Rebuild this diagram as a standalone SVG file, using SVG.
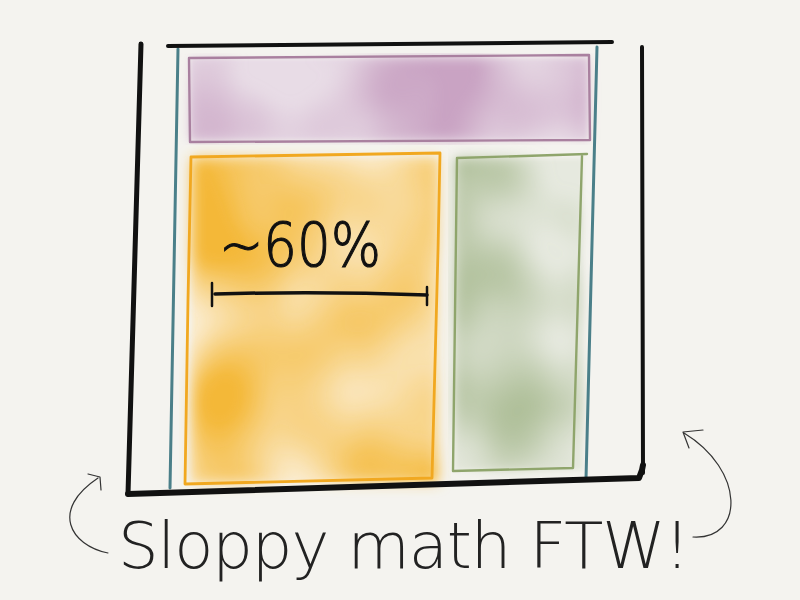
<svg xmlns="http://www.w3.org/2000/svg" width="800" height="600" viewBox="0 0 800 600">
<style>
.ink{fill:none;stroke:#111;stroke-linecap:round;stroke-linejoin:round}
.teal{fill:none;stroke:#4a7f89;stroke-width:3;stroke-linecap:round}
.pur{fill:none;stroke:#a9809f;stroke-width:2.4;stroke-linecap:round;stroke-linejoin:round}
.org{fill:none;stroke:#f1a820;stroke-width:2.8;stroke-linecap:round;stroke-linejoin:round}
.grn{fill:none;stroke:#8fa56c;stroke-width:2.4;stroke-linecap:round;stroke-linejoin:round}
.pencil{fill:none;stroke:#333;stroke-width:1.2;stroke-linecap:round;stroke-linejoin:round}
.hand{font-family:"DejaVu Sans","Liberation Sans",sans-serif;font-weight:200}
</style>
<defs>
<filter id="soft" x="-5%" y="-5%" width="110%" height="110%">
<feGaussianBlur stdDeviation="2.5"/>
</filter>
<filter id="wc1" x="-5%" y="-5%" width="110%" height="110%">
<feTurbulence type="fractalNoise" baseFrequency="0.008" numOctaves="2" seed="4" result="n"/>
<feColorMatrix in="n" type="matrix" values="0 0 0 0 0 0 0 0 0 0 0 0 0 0 0 2.4 0 0 0 -0.75" result="m"/>
<feComposite in="SourceGraphic" in2="m" operator="in" result="b"/>
<feGaussianBlur in="b" stdDeviation="6"/>
</filter>
<filter id="wc2" x="-5%" y="-5%" width="110%" height="110%">
<feTurbulence type="fractalNoise" baseFrequency="0.007" numOctaves="2" seed="11" result="n"/>
<feColorMatrix in="n" type="matrix" values="0 0 0 0 0 0 0 0 0 0 0 0 0 0 0 2.6 0 0 0 -0.85" result="m"/>
<feComposite in="SourceGraphic" in2="m" operator="in" result="b"/>
<feGaussianBlur in="b" stdDeviation="7"/>
</filter>
<filter id="wc3" x="-5%" y="-5%" width="110%" height="110%">
<feTurbulence type="fractalNoise" baseFrequency="0.008" numOctaves="2" seed="23" result="n"/>
<feColorMatrix in="n" type="matrix" values="0 0 0 0 0 0 0 0 0 0 0 0 0 0 0 2.4 0 0 0 -0.7" result="m"/>
<feComposite in="SourceGraphic" in2="m" operator="in" result="b"/>
<feGaussianBlur in="b" stdDeviation="7"/>
</filter>
</defs>
<rect x="0" y="0" width="800" height="600" fill="#f4f3ef"/>

<g id="header">
<rect x="190" y="58" width="398" height="82" fill="#e8dce6" filter="url(#soft)"/>
<rect x="190" y="58" width="398" height="82" fill="#c9a3c3" filter="url(#wc1)"/>
<path class="pur" d="M189,58 L589,55 L590,140 L190,142 Z"/>
</g>

<g id="main">
<rect x="192" y="158" width="246" height="324" fill="#fbedd2" filter="url(#soft)"/>
<rect x="192" y="158" width="246" height="324" fill="#f4b837" filter="url(#wc2)"/>
<path class="org" d="M191,157 L440,153 L438,250 L432,478 L185,484 L188,300 Z"/>
</g>

<g id="sidebar">
<rect x="455" y="158" width="128" height="312" fill="#e6e9df" filter="url(#soft)"/>
<rect x="455" y="158" width="128" height="312" fill="#a3b68a" filter="url(#wc3)"/>
<path class="grn" d="M457,158 L587,154 M582,156 L573,468 L453,471 L457,158"/>
</g>

<g id="frame">
<path class="teal" d="M178,49 L170,488"/>
<path class="teal" d="M597,47 L586,479"/>
<path class="ink" stroke-width="4" d="M168,46 L612,42"/>
<path class="ink" stroke-width="5" d="M141,44 L128,494"/>
<path class="ink" stroke-width="4" d="M642,47 L643,473"/>
<path class="ink" stroke-width="6" d="M128,494 Q380,487 639,478 L642,470 L643,465"/>
</g>

<g id="measure">
<text class="hand" x="219" y="266" font-size="61" fill="#111" stroke="#111" stroke-width="1.2" textLength="162" lengthAdjust="spacingAndGlyphs">~60%</text>
<path class="ink" stroke-width="3.5" d="M215,294 Q320,291 427,295"/>
<path class="ink" stroke-width="2.5" d="M212,283 L212,306"/>
<path class="ink" stroke-width="2.5" d="M427,287 L427,305"/>
</g>

<g id="caption">
<text class="hand" x="118" y="568" font-size="64" fill="#222" textLength="572" lengthAdjust="spacing">Sloppy math FTW!</text>
</g>

<g id="arrows">
<path class="pencil" d="M108,553 C70,545 50,510 98,478"/>
<path class="pencil" d="M88,474 L100,477 L101,490"/>
<path class="pencil" d="M693,537 C745,540 745,470 684,433"/>
<path class="pencil" d="M703,430 L683,432 L689,448"/>
</g>
</svg>
